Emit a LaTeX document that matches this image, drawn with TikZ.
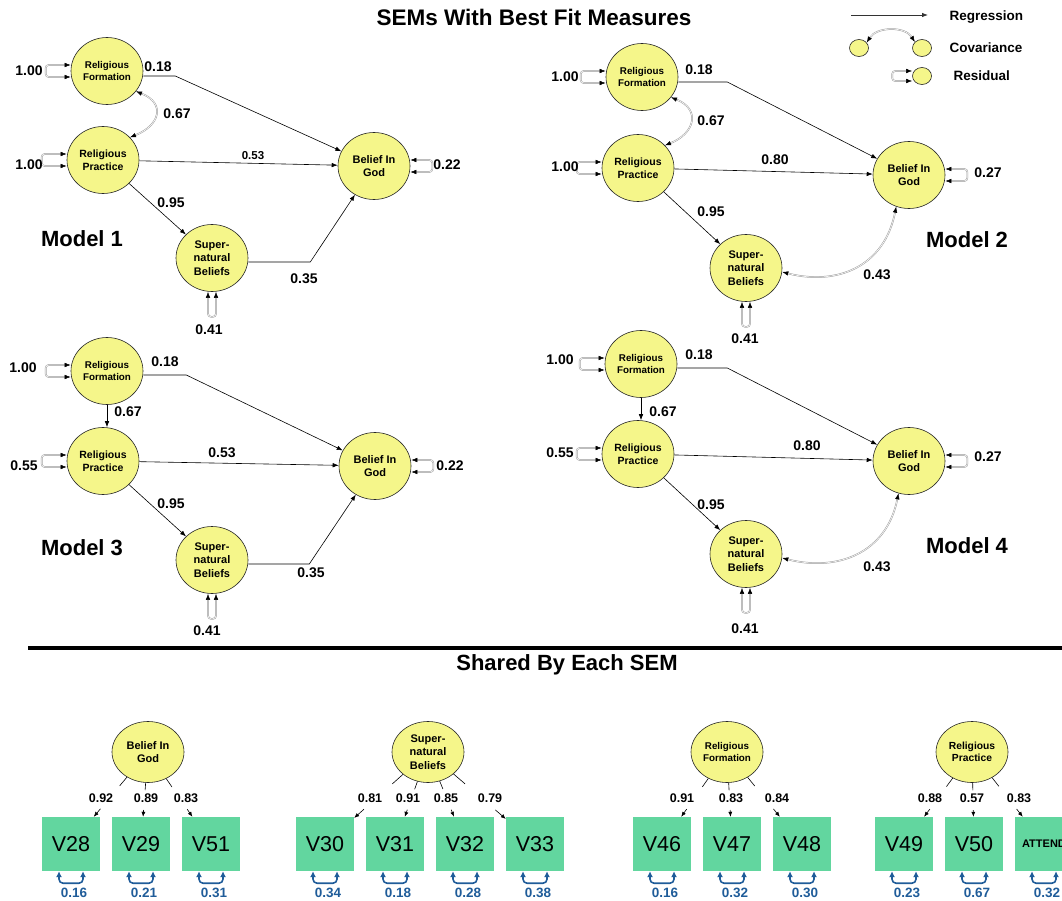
\documentclass[tikz,border=0pt]{standalone}
\usepackage{fontspec}
\setmainfont{Liberation Sans}
\usetikzlibrary{arrows.meta,positioning,calc,shapes.geometric}
\definecolor{semYellow}{HTML}{F5F68A}
\definecolor{semGreen}{HTML}{62D69F}
\definecolor{semBlue}{HTML}{1F5C99}
\definecolor{semGray}{HTML}{9A9A9A}
% residual loops on the left, right and bottom of a latent node
\newcommand{\resW}[1]{\draw[res] ($(#1.west)+(0,-6)$) -- ++(-25,0) -- ++(0,12) -- ($(#1.west)+(0,6)$);}
\newcommand{\resE}[1]{\draw[res] ($(#1.east)+(0,-6)$) -- ++(22,0) -- ++(0,12) -- ($(#1.east)+(0,6)$);}
\newcommand{\resS}[1]{\draw[res] ($(#1.south)+(-4,0)$) -- ++(0,25) -- ++(8,0) -- ($(#1.south)+(4,0)$);}
% loading with a gap for its value, and the blue error loop under a box
\newcommand{\loadl}[4]{%
  \path (#1) -- (#2) coordinate[pos=.22] (la) coordinate[pos=.8] (lb);
  \draw[line width=0.6pt] (#1) -- (la);
  \draw[ldr] (lb) -- (#2);
  \node[ldl] at (#3,798) {#4};}
\newcommand{\resB}[2]{%
  \draw[resb] ($(#1.south)+(-12,0)$) -- ++(0,12) -- ++(24,0) -- ++(0,-12);
  \node[bl] at ($(#1.south)+(3,22)$) {#2};}

\begin{document}
\begin{tikzpicture}[x=1pt, y=-1pt,
  lat/.style={ellipse, draw=black!85, fill=semYellow, line width=0.6pt, minimum width=72pt, minimum height=67pt, inner sep=0pt, align=center, font=\bfseries\fontsize{11}{13.4}\selectfont},
  latF/.style={lat, font=\bfseries\fontsize{9.8}{11.7}\selectfont},
  latP/.style={lat, font=\bfseries\fontsize{10.5}{12.5}\selectfont},
  latB/.style={lat, minimum height=61pt},
  latL/.style={ellipse, draw=black!85, fill=semYellow, line width=0.6pt, minimum width=19pt, minimum height=17pt, inner sep=0pt},
  obs/.style={fill=semGreen, minimum width=58pt, minimum height=54pt, inner sep=0pt, font=\fontsize{21.5}{24}\selectfont},
  reg/.style={-{Latex[length=6pt,width=4.5pt]}, line width=0.6pt},
  cov/.style={{Latex[length=6pt,width=4.5pt,black]}-{Latex[length=6pt,width=4.5pt,black]}, draw=semGray, double=white, double distance=0.6pt, line width=0.5pt},
  res/.style={cov, rounded corners=3pt},
  ldr/.style={-{Latex[length=5pt,width=4pt]}, line width=0.6pt},
  ldl/.style={font=\bfseries\fontsize{12.5}{14}\selectfont},
  resb/.style={{Latex[length=6pt,width=6pt]}-{Latex[length=6pt,width=6pt]}, semBlue, line width=1.6pt, rounded corners=4pt},
  bl/.style={font=\bfseries\fontsize{13.5}{15}\selectfont, text=semBlue},
  lbl/.style={font=\bfseries\fontsize{14}{16}\selectfont},
  mdl/.style={font=\bfseries\fontsize{22}{26}\selectfont},
  leg/.style={font=\bfseries\fontsize{13.5}{15}\selectfont, anchor=west}]
\useasboundingbox (0,0) rectangle (1062,901);
\clip (0,0) rectangle (1062,901);

\node[font=\bfseries\fontsize{22.5}{26}\selectfont] (title) at (534,17) {SEMs With Best Fit Measures};

% legend
\coordinate (lgA) at (851,15);
\coordinate (lgB) at (928,15);
\draw[reg, black!80, line width=0.8pt] (lgA) -- (lgB);
\node[leg] (lgreg) at (946,17) {Regression};
\node[latL] (lgc1) at (859,48) {};
\node[latL] (lgc2) at (922,48) {};
\draw[cov] (lgc1.35) .. controls +(10,-16) and +(-10,-16) .. (lgc2.140);
\node[leg] (lgcov) at (946,48) {Covariance};
\node[latL] (lgr) at (922,76) {};
\draw[res] ($(lgr.west)+(0,-5)$) -- ++(-20,0) -- ++(0,10) -- ($(lgr.west)+(0,5)$);
\node[leg] (lgres) at (950,76) {Residual};

% Model 1
\node[latF] (rf1) at (107,71) {Religious\\Formation};
\node[latP] (rp1) at (103,160) {Religious\\Practice};
\node[lat] (big1) at (374,166) {Belief In\\God};
\node[lat] (sb1) at (212,258) {Super-\\natural\\Beliefs};
\draw[reg] ($(rf1.east)+(0,5)$) -- ++(32,0) -- (big1);
\draw[cov] (rf1.-35) .. controls +(30,12) and +(30,-12) .. (rp1.40);
\draw[reg] (rp1) -- (big1);
\draw[reg] (rp1) -- (sb1);
\draw[reg] ($(sb1.east)+(0,4)$) -- ++(62,0) -- (big1);
\resW{rf1} \resW{rp1} \resE{big1} \resS{sb1}
\node[lbl] (e1a) at (29,71) {1.00};
\node[lbl] (e1b) at (29,165) {1.00};
\node[lbl] (e1c) at (158,67) {0.18};
\node[lbl] (e1d) at (177,114) {0.67};
\node[lbl, font=\bfseries\fontsize{11.5}{13}\selectfont] (e1e) at (253,156) {0.53};
\node[lbl] (e1f) at (171,203) {0.95};
\node[lbl] (e1g) at (304,279) {0.35};
\node[lbl] (e1h) at (209,330) {0.41};
\node[lbl] (e1i) at (447,165) {0.22};
\node[mdl] (m1) at (82,239) {Model 1};

% Model 2
\node[latF] (rf2) at (642,77) {Religious\\Formation};
\node[latP] (rp2) at (638,168) {Religious\\Practice};
\node[lat] (big2) at (909,175) {Belief In\\God};
\node[lat] (sb2) at (746,268) {Super-\\natural\\Beliefs};
\draw[reg] ($(rf2.east)+(0,5)$) -- ++(49,0) -- (big2);
\draw[cov] (rf2.-35) .. controls +(30,12) and +(30,-12) .. (rp2.40);
\draw[reg] (rp2) -- (big2);
\draw[reg] (rp2) -- (sb2);
\draw[cov] ($(sb2.east)+(0,4)$) .. controls +(55,14) and +(-12,60) .. (big2.-112);
\resW{rf2} \resW{rp2} \resE{big2} \resS{sb2}
\node[lbl] (e2a) at (565,77) {1.00};
\node[lbl] (e2b) at (565,167) {1.00};
\node[lbl] (e2c) at (699,70) {0.18};
\node[lbl] (e2d) at (711,121) {0.67};
\node[lbl] (e2e) at (775,160) {0.80};
\node[lbl] (e2f) at (711,212) {0.95};
\node[lbl] (e2g) at (877,275) {0.43};
\node[lbl] (e2h) at (745,339) {0.41};
\node[lbl] (e2i) at (988,173) {0.27};
\node[mdl] (m2) at (967,240) {Model 2};

% Model 3
\node[latF] (rf3) at (107,371) {Religious\\Formation};
\node[latP] (rp3) at (103,461) {Religious\\Practice};
\node[lat] (big3) at (375,466) {Belief In\\God};
\node[lat] (sb3) at (212,560) {Super-\\natural\\Beliefs};
\draw[reg] ($(rf3.east)+(0,4)$) -- ++(43,0) -- (big3);
\draw[reg] (rf3.south) -- (rf3.south |- rp3.north);
\draw[reg] (rp3) -- (big3);
\draw[reg] (rp3) -- (sb3);
\draw[reg] ($(sb3.east)+(0,4)$) -- ++(61,0) -- (big3);
\resW{rf3} \resW{rp3} \resE{big3} \resS{sb3}
\node[lbl] (e3a) at (23,368) {1.00};
\node[lbl] (e3b) at (24,466) {0.55};
\node[lbl] (e3c) at (165,362) {0.18};
\node[lbl] (e3d) at (128,412) {0.67};
\node[lbl] (e3e) at (222,453) {0.53};
\node[lbl] (e3f) at (171,504) {0.95};
\node[lbl] (e3g) at (311,573) {0.35};
\node[lbl] (e3h) at (207,631) {0.41};
\node[lbl] (e3i) at (450,466) {0.22};
\node[mdl] (m3) at (82,548) {Model 3};

% Model 4
\node[latF] (rf4) at (641,364) {Religious\\Formation};
\node[latP] (rp4) at (638,454) {Religious\\Practice};
\node[lat] (big4) at (909,461) {Belief In\\God};
\node[lat] (sb4) at (746,554) {Super-\\natural\\Beliefs};
\draw[reg] ($(rf4.east)+(0,4)$) -- ++(50,0) -- (big4);
\draw[reg] (rf4.south) -- (rf4.south |- rp4.north);
\draw[reg] (rp4) -- (big4);
\draw[reg] (rp4) -- (sb4);
\draw[cov] ($(sb4.east)+(0,4)$) .. controls +(55,14) and +(-12,60) .. (big4.-108);
\resW{rf4} \resW{rp4} \resE{big4} \resS{sb4}
\node[lbl] (e4a) at (560,360) {1.00};
\node[lbl] (e4b) at (560,453) {0.55};
\node[lbl] (e4c) at (699,355) {0.18};
\node[lbl] (e4d) at (663,412) {0.67};
\node[lbl] (e4e) at (807,446) {0.80};
\node[lbl] (e4f) at (711,505) {0.95};
\node[lbl] (e4g) at (877,567) {0.43};
\node[lbl] (e4h) at (745,629) {0.41};
\node[lbl] (e4i) at (988,457) {0.27};
\node[mdl] (m4) at (967,546) {Model 4};

% shared measurement part
\draw[line width=4pt] (28,648) -- (1062,648);
\node[font=\bfseries\fontsize{22}{26}\selectfont] (shared) at (567,665) {Shared By Each SEM};

\node[latB] (godB) at (148,752) {Belief In\\God};
\node[latB] (sbB) at (428,752) {Super-\\natural\\Beliefs};
\node[latB, font=\bfseries\fontsize{9.8}{11.7}\selectfont] (rfB) at (727,752) {Religious\\Formation};
\node[latB, font=\bfseries\fontsize{10.3}{12.5}\selectfont] (rpB) at (972,752) {Religious\\Practice};

\node[obs] (v28) at (71,844) {V28};
\node[obs] (v29) at (141,844) {V29};
\node[obs] (v51) at (211,844) {V51};
\node[obs] (v30) at (325,844) {V30};
\node[obs] (v31) at (395,844) {V31};
\node[obs] (v32) at (465,844) {V32};
\node[obs] (v33) at (535,844) {V33};
\node[obs] (v46) at (662,844) {V46};
\node[obs] (v47) at (732,844) {V47};
\node[obs] (v48) at (802,844) {V48};
\node[obs] (v49) at (904,844) {V49};
\node[obs] (v50) at (974,844) {V50};
\node[obs, font=\bfseries\fontsize{11}{13}\selectfont] (att) at (1044,844) {ATTEND};

\foreach \f/\b/\x/\v in {godB/v28/101/0.92, godB/v29/146/0.89, godB/v51/186/0.83,
  sbB/v30/370/0.81, sbB/v31/408/0.91, sbB/v32/446/0.85, sbB/v33/490/0.79,
  rfB/v46/682/0.91, rfB/v47/731/0.83, rfB/v48/777/0.84,
  rpB/v49/930/0.88, rpB/v50/972/0.57, rpB/att/1019/0.83}{\loadl{\f}{\b}{\x}{\v}}
\foreach \b/\v in {v28/0.16, v29/0.21, v51/0.31, v30/0.34, v31/0.18, v32/0.28, v33/0.38,
  v46/0.16, v47/0.32, v48/0.30, v49/0.23, v50/0.67, att/0.32}{\resB{\b}{\v}}
\end{tikzpicture}
\end{document}
